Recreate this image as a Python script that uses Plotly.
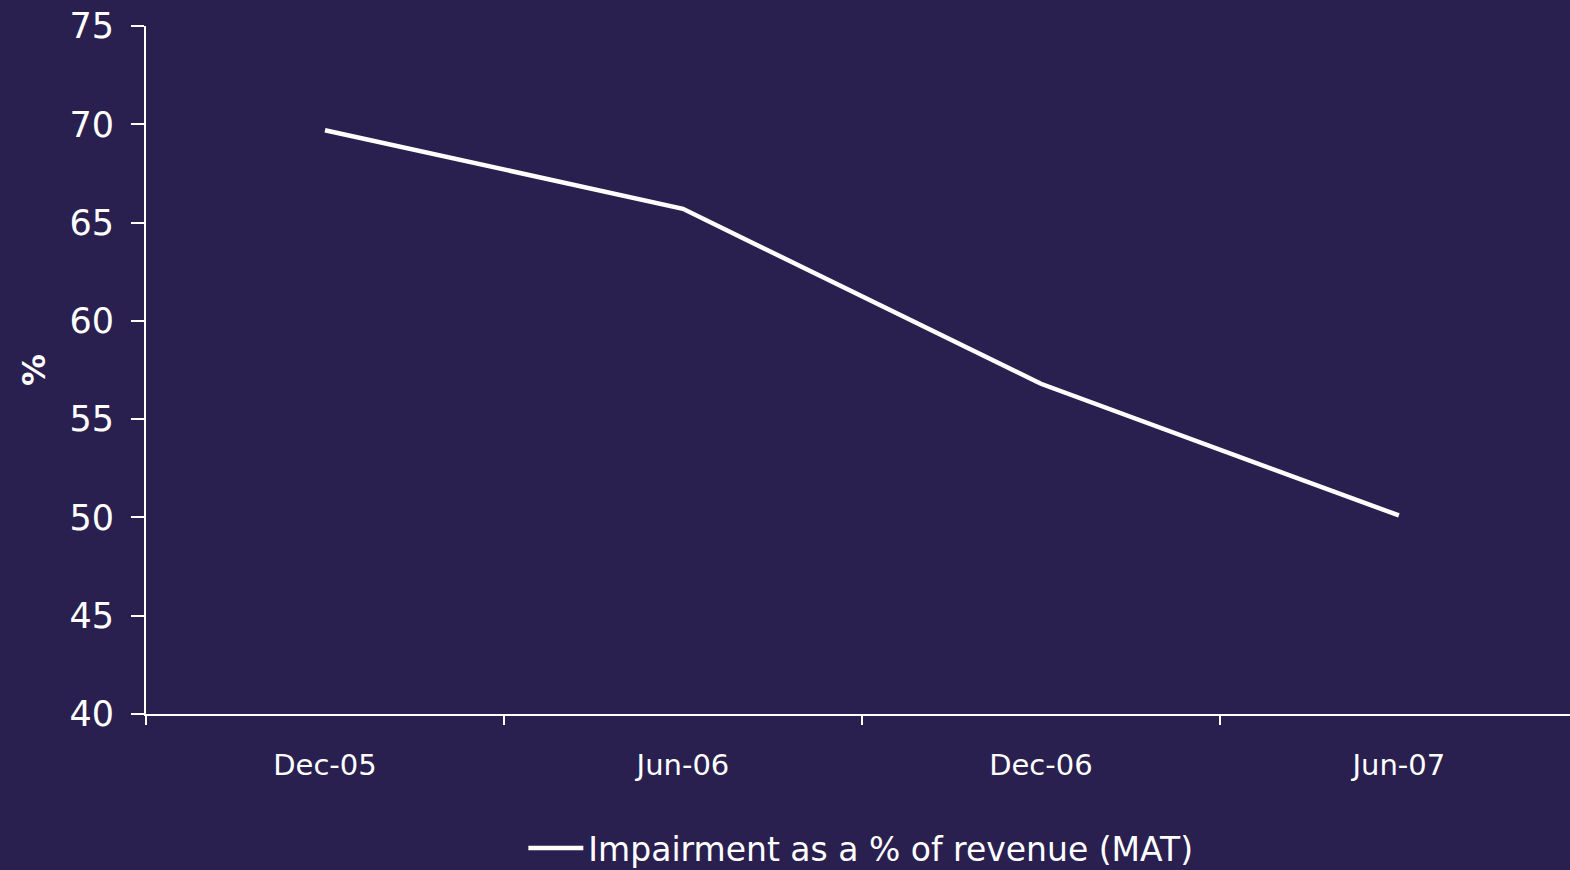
import plotly.graph_objects as go

periods = ["Dec-05", "Jun-06", "Dec-06", "Jun-07"]
impairment_pct = [69.7, 65.7, 56.8, 50.1]
y_ticks = [40, 45, 50, 55, 60, 65, 70, 75]

BG = "#2a2050"
FG = "#ffffff"

fig = go.Figure()
fig.add_trace(go.Scatter(
    x=periods,
    y=impairment_pct,
    mode="lines",
    name="Impairment as a % of revenue (MAT)",
    line=dict(color=FG, width=4.5),
))

fig.update_layout(
    width=1570,
    height=870,
    paper_bgcolor=BG,
    plot_bgcolor=BG,
    margin=dict(l=146, r=0, t=26, b=156, autoexpand=False),
    font=dict(family="DejaVu Sans", color=FG),
    showlegend=True,
    legend=dict(
        orientation="h",
        x=0.502, xref="paper", xanchor="center",
        y=-0.195, yanchor="middle",
        font=dict(size=33, family="DejaVu Sans", color=FG),
        bgcolor="rgba(0,0,0,0)",
        itemwidth=55,
    ),
)

fig.update_xaxes(
    type="category",
    range=[-0.5, 3.478],
    showgrid=False,
    zeroline=False,
    showline=True,
    linecolor=FG,
    linewidth=2,
    ticks="outside",
    ticklen=9,
    tickwidth=2,
    tickcolor=FG,
    tickson="boundaries",
    tickfont=dict(size=29, color=FG),
    ticklabelstandoff=24,
)

fig.update_yaxes(
    range=[40, 75],
    tickvals=y_ticks,
    showgrid=False,
    zeroline=False,
    showline=True,
    linecolor=FG,
    linewidth=2,
    ticks="outside",
    ticklen=13,
    tickwidth=2,
    tickcolor=FG,
    tickfont=dict(size=35, color=FG),
    ticklabelstandoff=10,
    title=dict(text="<b>%</b>", font=dict(size=32, color=FG), standoff=14),
)

fig.write_html("out.html")
